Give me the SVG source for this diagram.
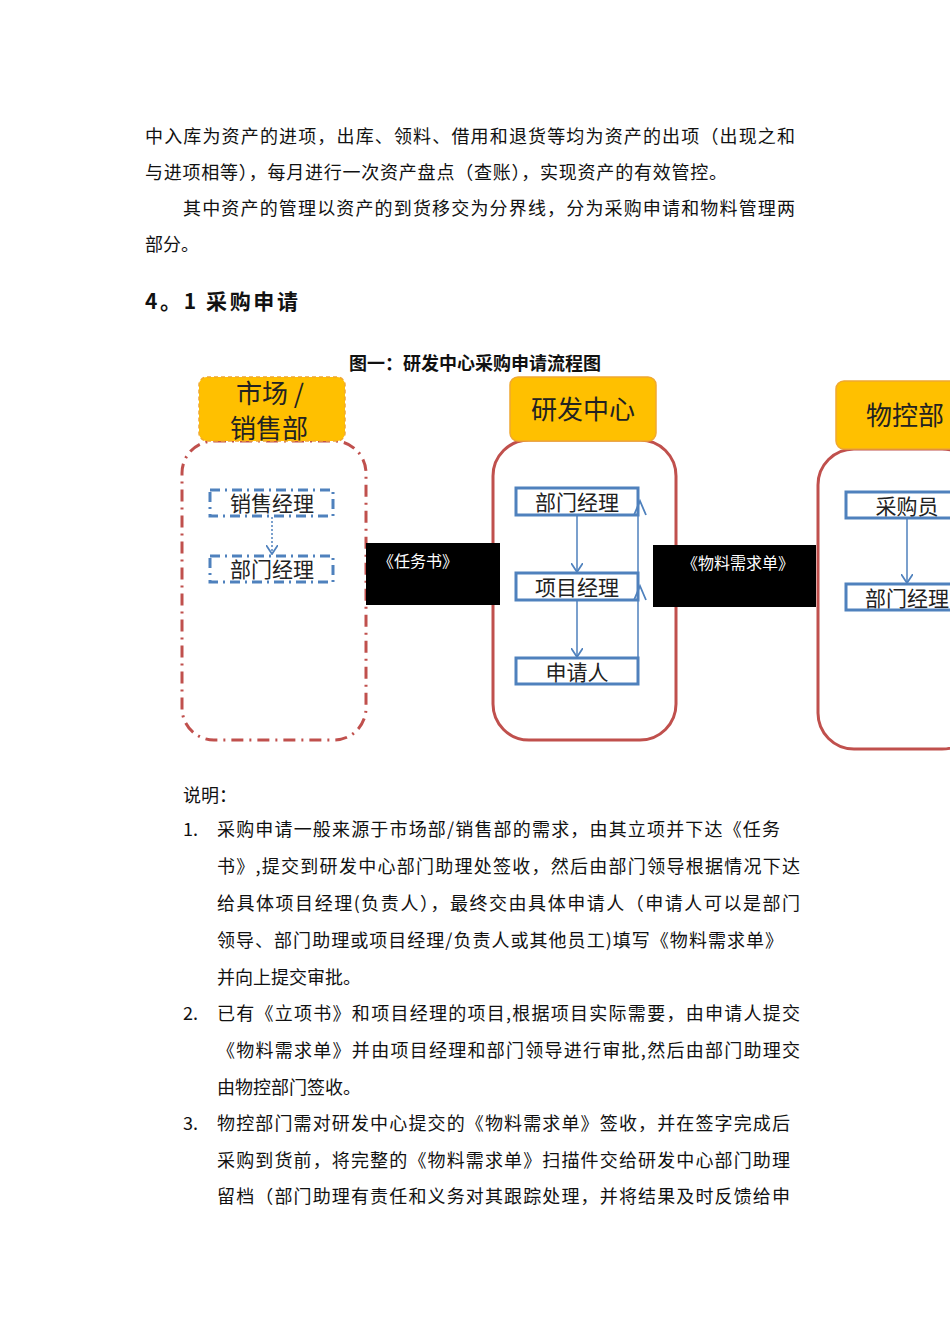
<svg xmlns="http://www.w3.org/2000/svg" width="950" height="1344" viewBox="0 0 950 1344">
<defs>
<style>
.t{font-family:"Noto Sans CJK SC","Liberation Serif",serif;font-size:18px;fill:#111}
.b{font-weight:bold}
.hd{fill:#ffc000;stroke:#f0a830;stroke-width:1.5}
.ht{font-family:"Noto Sans CJK SC",sans-serif;font-size:26px;fill:#222}
.ct{fill:none;stroke:#c0504d;stroke-width:3}
.bx{fill:#fff;stroke:#4f81bd;stroke-width:3}
.bt{font-family:"Noto Sans CJK SC",sans-serif;font-size:21px;fill:#222;text-anchor:middle}
.ln{stroke:#4f81bd;stroke-width:1.5;fill:none}
.wt{font-family:"Noto Sans CJK SC",sans-serif;font-size:16px;fill:#fff}
</style>
<marker id="v" viewBox="0 0 10 12" refX="9" refY="6" markerWidth="10" markerHeight="12" orient="auto" markerUnits="userSpaceOnUse"><path d="M0,0 L9,6 L0,12" fill="none" stroke="#4f81bd" stroke-width="1.8"/></marker>
</defs>
<rect width="950" height="1344" fill="#fff"/>
<g id="body-top">
<text class="t" x="145" y="143" textLength="650" lengthAdjust="spacing">中入库为资产的进项，出库、领料、借用和退货等均为资产的出项（出现之和</text>
<text class="t" x="145" y="179" textLength="582" lengthAdjust="spacing">与进项相等），每月进行一次资产盘点（查账），实现资产的有效管控。</text>
<text class="t" x="183" y="215" textLength="612" lengthAdjust="spacing">其中资产的管理以资产的到货移交为分界线，分为采购申请和物料管理两</text>
<text class="t" x="145" y="251">部分。</text>
<text class="t b" x="145" y="309" style="font-size:21px" textLength="153" lengthAdjust="spacing">4。1 采购申请</text>
<text class="t b" x="475" y="370" text-anchor="middle" style="font-size:18px">图一：研发中心采购申请流程图</text>
</g>
<g id="market">
<rect class="ct" x="182" y="441" width="184" height="299" rx="32" stroke-dasharray="12,6,2,6"/>
<rect class="hd" x="199" y="377" width="146" height="64" rx="8" stroke-dasharray="4,3"/>
<text class="ht" x="236" y="403">市场 /</text>
<text class="ht" x="230" y="438">销售部</text>
</g>
<g id="m1"><rect class="bx" x="210" y="490" width="123" height="26" stroke-dasharray="10,5,2,5" style="fill:none"/><text class="bt" x="272" y="511">销售经理</text></g>
<g id="m2"><rect class="bx" x="210" y="556" width="123" height="26" stroke-dasharray="10,5,2,5" style="fill:none"/><text class="bt" x="272" y="577">部门经理</text></g>
<g id="rd">
<rect class="ct" x="493" y="440" width="183" height="300" rx="36"/>
<rect class="hd" x="510" y="377" width="146" height="64" rx="8"/>
<text class="ht" x="583" y="419" text-anchor="middle">研发中心</text>
</g>
<g id="r1"><rect class="bx" x="516" y="488" width="122" height="27"/><text class="bt" x="577" y="510">部门经理</text></g>
<g id="r2"><rect class="bx" x="516" y="573" width="122" height="27"/><text class="bt" x="577" y="595">项目经理</text></g>
<g id="r3"><rect class="bx" x="516" y="658" width="122" height="26"/><text class="bt" x="577" y="680">申请人</text></g>
<g id="mc">
<rect class="ct" x="818" y="449" width="160" height="300" rx="36"/>
<rect class="hd" x="836" y="381" width="140" height="68" rx="8"/>
<text class="ht" x="866" y="425">物控部</text>
</g>
<g id="p1"><rect class="bx" x="846" y="492" width="130" height="26"/><text class="bt" x="907" y="514">采购员</text></g>
<g id="p2"><rect class="bx" x="846" y="584" width="130" height="26"/><text class="bt" x="907" y="606">部门经理</text></g>
<g id="doc1"><rect x="366" y="543" width="134" height="62" fill="#000"/><text class="wt" x="378" y="567">《任务书》</text></g>
<g id="doc2"><rect x="653" y="545" width="163" height="62" fill="#000"/><text class="wt" x="682" y="569">《物料需求单》</text></g>
<g id="connectors">
<line class="ln" x1="272" y1="517" x2="272" y2="554" stroke-dasharray="2,2" marker-end="url(#v)"/>
<line class="ln" x1="577" y1="515" x2="577" y2="572" marker-end="url(#v)"/>
<line class="ln" x1="577" y1="600" x2="577" y2="657" marker-end="url(#v)"/>
<line class="ln" x1="638" y1="684" x2="638" y2="488"/>
<path d="M634,600 L640,586 L646,600" class="ln" style="stroke-width:1.8"/>
<path d="M634,515 L640,501 L646,515" class="ln" style="stroke-width:1.8"/>
<line class="ln" x1="907" y1="518" x2="907" y2="583" marker-end="url(#v)"/>
</g>
<g id="body-bottom">
<text class="t" x="183" y="802">说明：</text>
<text class="t" x="183" y="836">1.</text>
<text class="t" x="217" y="836" textLength="563" lengthAdjust="spacing">采购申请一般来源于市场部/销售部的需求，由其立项并下达《任务</text>
<text class="t" x="217" y="873" textLength="583" lengthAdjust="spacing">书》,提交到研发中心部门助理处签收，然后由部门领导根据情况下达</text>
<text class="t" x="217" y="910" textLength="583" lengthAdjust="spacing">给具体项目经理(负责人），最终交由具体申请人（申请人可以是部门</text>
<text class="t" x="217" y="947" textLength="566" lengthAdjust="spacing">领导、部门助理或项目经理/负责人或其他员工)填写《物料需求单》</text>
<text class="t" x="217" y="984">并向上提交审批。</text>
<text class="t" x="183" y="1020">2.</text>
<text class="t" x="217" y="1020" textLength="583" lengthAdjust="spacing">已有《立项书》和项目经理的项目,根据项目实际需要，由申请人提交</text>
<text class="t" x="217" y="1057" textLength="583" lengthAdjust="spacing">《物料需求单》并由项目经理和部门领导进行审批,然后由部门助理交</text>
<text class="t" x="217" y="1094">由物控部门签收。</text>
<text class="t" x="183" y="1130">3.</text>
<text class="t" x="217" y="1130" textLength="573" lengthAdjust="spacing">物控部门需对研发中心提交的《物料需求单》签收，并在签字完成后</text>
<text class="t" x="217" y="1167" textLength="573" lengthAdjust="spacing">采购到货前，将完整的《物料需求单》扫描件交给研发中心部门助理</text>
<text class="t" x="217" y="1203" textLength="573" lengthAdjust="spacing">留档（部门助理有责任和义务对其跟踪处理，并将结果及时反馈给申</text>
</g>
</svg>
